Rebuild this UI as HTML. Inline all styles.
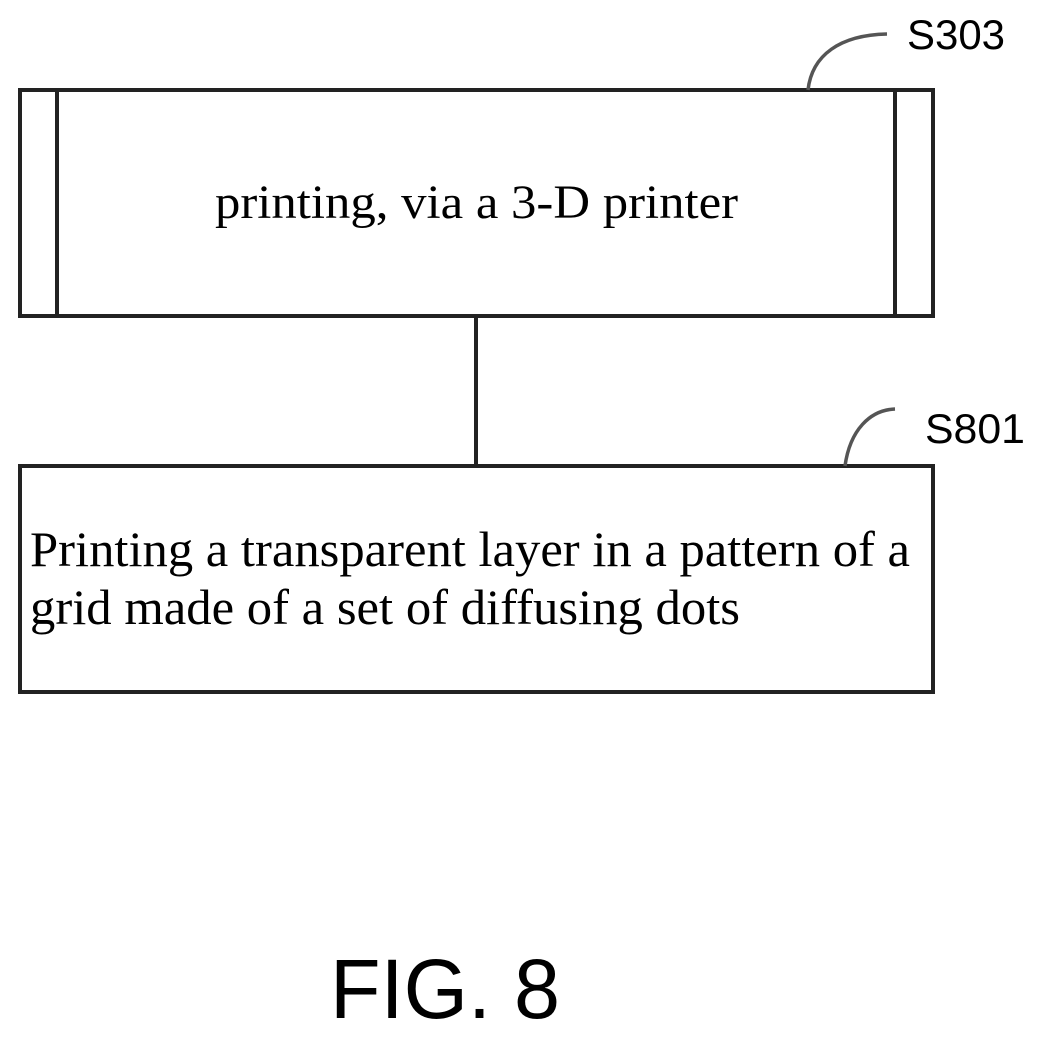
<!DOCTYPE html>
<html><head><meta charset="utf-8"><style>html,body{margin:0;padding:0;background:#fff}</style></head>
<body>
<svg width="1039" height="1039" viewBox="0 0 1039 1039" xmlns="http://www.w3.org/2000/svg">
<g fill="none" stroke="#222" stroke-width="4">
<rect x="20" y="90" width="913" height="226"/>
<line x1="57" y1="90" x2="57" y2="316"/>
<line x1="895" y1="90" x2="895" y2="316"/>
<line x1="476" y1="316" x2="476" y2="466"/>
<rect x="20" y="466" width="913" height="226"/>
<path d="M808 90 C812 55 840 35 887 34" stroke-width="3.5" stroke="#555"/>
<path d="M845 466 C850 430 870 410 895 409" stroke-width="3.5" stroke="#555"/>
</g>
<g font-family="Liberation Serif, serif" fill="#000">
<text x="215" y="218" font-size="48" textLength="523" lengthAdjust="spacingAndGlyphs">printing, via a 3-D printer</text>
<text x="30" y="566" font-size="50" textLength="880" lengthAdjust="spacingAndGlyphs">Printing a transparent layer in a pattern of a</text>
<text x="30" y="624" font-size="50" textLength="710" lengthAdjust="spacingAndGlyphs">grid made of a set of diffusing dots</text>
</g>
<g font-family="Liberation Sans, sans-serif" fill="#000">
<text x="907" y="49" font-size="42" textLength="98" lengthAdjust="spacingAndGlyphs">S303</text>
<text x="925" y="443" font-size="42" textLength="100" lengthAdjust="spacingAndGlyphs">S801</text>
<text x="330" y="1018" font-size="84" textLength="230" lengthAdjust="spacingAndGlyphs">FIG. 8</text>
</g>
</svg>
</body></html>
